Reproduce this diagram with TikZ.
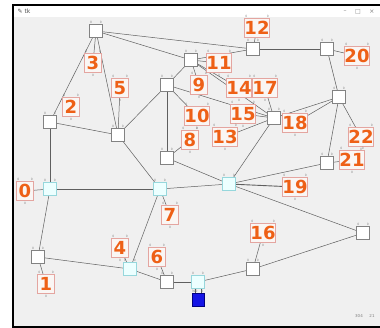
\documentclass[tikz,border=0pt]{standalone}
\usepackage{fontspec}
\newfontfamily\lblfont{DejaVu Sans}
\newfontfamily\smallfont{DejaVu Sans}
\definecolor{orng}{RGB}{238,96,22}
\definecolor{lbdraw}{RGB}{228,165,160}
\definecolor{lbfill}{RGB}{250,246,244}
\definecolor{cyfill}{RGB}{236,255,255}
\definecolor{cydraw}{RGB}{150,215,220}
\definecolor{sqdraw}{RGB}{130,130,130}
\definecolor{edgec}{RGB}{95,95,95}
\definecolor{contentgray}{RGB}{240,240,240}
\definecolor{bluesq}{RGB}{20,20,230}
\pgfdeclarelayer{bg}
\pgfdeclarelayer{edge}
\pgfsetlayers{bg,edge,main}
\newcommand\nports[1]{\node[pt] at ([xshift=2pt,yshift=2.2pt]#1.north west){0};\node[pt] at ([xshift=-2pt,yshift=2.2pt]#1.north east){0};}
\newcommand\lports[1]{\nports{#1}\node[pt] at ([yshift=-2.2pt]#1.south){0};}
\begin{document}
\begin{tikzpicture}[x=1pt,y=-1pt,
  sq/.style={draw=sqdraw, fill=white, minimum size=13pt, inner sep=0pt, line width=0.6pt},
  cy/.style={sq, fill=cyfill, draw=cydraw},
  lb/.style={draw=lbdraw, fill=lbfill, text=orng, font=\lblfont\bfseries\fontsize{18}{18}\selectfont, inner sep=0pt, minimum height=19pt, minimum width=17pt, text height=13pt, text depth=0pt, line width=0.5pt},
  lbw/.style={lb, minimum width=24pt},
  ed/.style={draw=edgec, line width=0.5pt},
  pt/.style={font=\smallfont\fontsize{3}{3}\selectfont, text=gray, inner sep=0pt},
  tb/.style={font=\smallfont\fontsize{6}{6}\selectfont, text=gray, inner sep=0pt}
]
\useasboundingbox (0,0) rectangle (380,328);
\begin{pgfonlayer}{bg}
\fill[white] (0,0) rectangle (380,328);
\fill[black] (12,4) rectangle (380,328);
\fill[white] (14,6) rectangle (380,17);
\fill[contentgray] (14,17) rectangle (380,326);
\end{pgfonlayer}
\node[tb, text=black!70] (icon) at (24,11.5) {✎ tk};
\node[tb] (bmin) at (345,11.5) {–};
\node[tb] (bmax) at (358,11.5) {□};
\node[tb] (bcls) at (372,11.5) {×};
\node[pt, font=\smallfont\fontsize{4}{4}\selectfont] (stat1) at (359,316) {304};
\node[pt, font=\smallfont\fontsize{4}{4}\selectfont] (stat2) at (372,316) {21};
% graph nodes
\node[sq] (A) at (96,31) {};
\node[sq] (B) at (253,49) {};
\node[sq] (C) at (327,49) {};
\node[sq] (D) at (191,60) {};
\node[sq] (E) at (167,85) {};
\node[sq] (F) at (339,97) {};
\node[sq] (G) at (50,122) {};
\node[sq] (H) at (118,135) {};
\node[sq] (I) at (274,118) {};
\node[sq] (J) at (167,158) {};
\node[sq] (K) at (327,163) {};
\node[cy] (L) at (50,189) {};
\node[cy] (M) at (160,189) {};
\node[cy] (N) at (229,184) {};
\node[sq] (O) at (363,233) {};
\node[sq] (P) at (38,257) {};
\node[cy] (Q) at (130,269) {};
\node[sq] (R) at (167,282) {};
\node[cy] (S) at (198,282) {};
\node[sq] (T) at (253,269) {};
\node[sq, fill=bluesq, draw=blue!50!black, minimum width=12pt] (X) at (198,300) {};
\foreach \n in {A,B,C,D,E,F,G,H,I,J,K,L,M,N,O,P,Q,R,S,T} {\nports{\n}}
\node[pt] (xp1) at ([xshift=3pt,yshift=2.2pt]X.north west) {390};
\node[pt] (xp2) at ([xshift=-2pt,yshift=2.2pt]X.north east) {0};
% labels
\node[lb] (l0) at (25,191) {0};
\node[lb] (l1) at (46,284) {1};
\node[lb] (l2) at (71,107) {2};
\node[lb] (l3) at (93,63) {3};
\node[lb] (l4) at (120,248) {4};
\node[lb] (l5) at (120,88) {5};
\node[lb] (l6) at (157,257) {6};
\node[lb] (l7) at (170,215) {7};
\node[lb] (l8) at (190,140) {8};
\node[lb] (l9) at (199,85) {9};
\node[lbw] (l10) at (197,116) {10};
\node[lbw] (l11) at (219,63) {11};
\node[lbw] (l12) at (257,28) {12};
\node[lbw] (l13) at (225,137) {13};
\node[lbw] (l14) at (239,88) {14};
\node[lbw] (l15) at (243,114) {15};
\node[lbw] (l16) at (263,233) {16};
\node[lbw] (l17) at (265,88) {17};
\node[lbw] (l18) at (295,123) {18};
\node[lbw] (l19) at (295,187) {19};
\node[lbw] (l20) at (357,56) {20};
\node[lbw] (l21) at (352,160) {21};
\node[lbw] (l22) at (361,137) {22};
\foreach \n in {0,...,11,13,14,15,16,17,18,19,20,21,22} {\lports{l\n}}
\nports{l12}
% edges
\begin{pgfonlayer}{edge}
\draw[ed] (A) -- (B);
\draw[ed] (A) -- (D);
\draw[ed] (A) -- (G);
\draw[ed] (A) -- (H);
\draw[ed] (A) -- (l3);
\draw[ed] (D) -- (B);
\draw[ed] (B) -- (C);
\draw[ed] (C) -- (F);
\draw[ed] (F) -- (I);
\draw[ed] (F) -- (l18);
\draw[ed] (F) -- (K);
\draw[ed] (F) -- (l22);
\draw[ed] (K) -- (N);
\draw[ed] (K) -- (l21);
\draw[ed] (D) -- (E);
\draw[ed] (D) -- (I);
\draw[ed] (D) -- (l14);
\draw[ed] (D) -- (l9);
\draw[ed] (D) -- (l11);
\draw[ed] (E) -- (H);
\draw[ed] (E) -- (J);
\draw[ed] (E) -- (I);
\draw[ed] (E) -- (l10);
\draw[ed] (G) -- (H);
\draw[ed] (G) -- (L);
\draw[ed] (H) -- (M);
\draw[ed] (H) -- (l5);
\draw[ed] (J) -- (N);
\draw[ed] (J) -- (l8);
\draw[ed] (I) -- (N);
\draw[ed] (I) -- (l13);
\draw[ed] (I) -- (l15);
\draw[ed] (I) -- (l17);
\draw[ed] (L) -- (M);
\draw[ed] (L) -- (l0);
\draw[ed] (M) -- (N);
\draw[ed] (M) -- (l7);
\draw[ed] (N) -- (O);
\draw[ed, line width=0.9pt] (N) -- (l19);
\draw[ed] (L) -- (P);
\draw[ed] (P) -- (l1);
\draw[ed] (P) -- (Q);
\draw[ed] (Q) -- (M);
\draw[ed] (Q) -- (R);
\draw[ed] (Q) -- (l4);
\draw[ed] (R) -- (S);
\draw[ed] (R) -- (l6);
\draw[ed] (S) -- (T);
\draw[ed] (T) -- (O);
\draw[ed] (T) -- (l16);
\draw[ed] (B) -- (l12);
\draw[ed] (C) -- (l20);
\draw[ed] ([xshift=-3pt]S.south) -- ([xshift=-3pt]X.north);
\draw[ed] ([xshift=3pt]S.south) -- ([xshift=3pt]X.north);
\end{pgfonlayer}
\end{tikzpicture}
\end{document}
